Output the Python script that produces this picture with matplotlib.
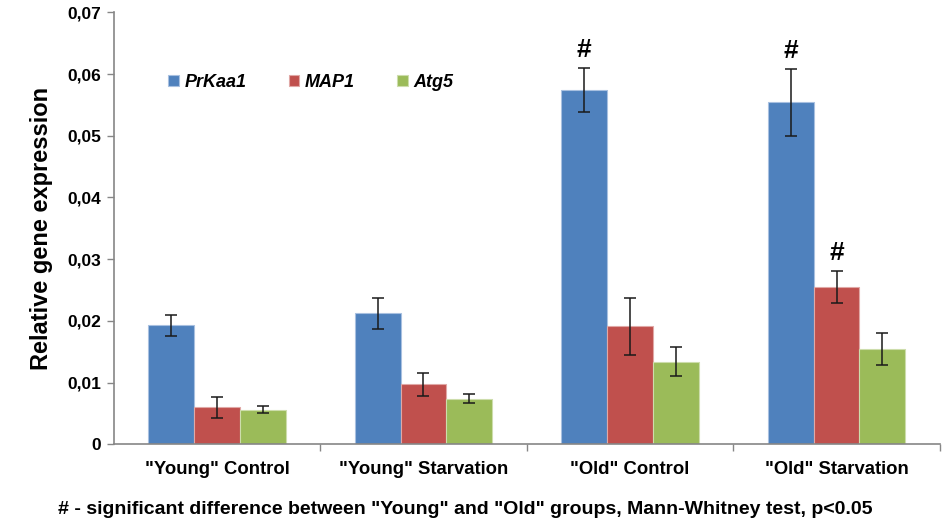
import numpy as np
import matplotlib
matplotlib.use("Agg")
import matplotlib.pyplot as plt

plt.rcParams['font.family'] = ['Liberation Sans', 'DejaVu Sans']

categories = ['"Young" Control', '"Young" Starvation', '"Old" Control', '"Old" Starvation']
genes = ['PrKaa1', 'MAP1', 'Atg5']

prkaa1 = [0.0193, 0.0212, 0.0574, 0.0554]
prkaa1_err = [0.0017, 0.0025, 0.0036, 0.0054]
map1 = [0.0060, 0.0097, 0.0191, 0.0255]
map1_err = [0.0017, 0.0018, 0.0046, 0.0026]
atg5 = [0.0056, 0.0074, 0.0134, 0.0155]
atg5_err = [0.0006, 0.0007, 0.0023, 0.0026]

# '#' marks: (category index, gene index)
significant = [(2, 0), (3, 0), (3, 1)]

yticks = [0, 0.01, 0.02, 0.03, 0.04, 0.05, 0.06, 0.07]
ytick_labels = ['0', '0,01', '0,02', '0,03', '0,04', '0,05', '0,06', '0,07']

colors = ['#4F81BD', '#C0504D', '#9BBB59']
edge_colors = ['#A8C0E0', '#E0A8A6', '#CDDDAC']

fig = plt.figure(figsize=(9.42, 5.22), dpi=100)
ax = fig.add_axes([0.1207, 0.1489, 0.877, 0.8275])

x = np.arange(len(categories))
w = 0.222
series = [prkaa1, map1, atg5]
errs = [prkaa1_err, map1_err, atg5_err]
for i, (vals, err) in enumerate(zip(series, errs)):
    pos = x + (i - 1) * w
    ax.bar(pos, vals, width=w, color=colors[i], edgecolor=edge_colors[i],
           linewidth=0.8, label=genes[i], zorder=2)
    ax.errorbar(pos, vals, yerr=err, fmt='none', ecolor='#1a1a1a',
                elinewidth=1.1, capsize=4, capthick=1.1, zorder=3)

for ci, gi in significant:
    top = series[gi][ci] + errs[gi][ci]
    ax.annotate('#', xy=(x[ci] + (gi - 1) * w, top), xytext=(0, 4.5),
                textcoords='offset points', ha='center', va='bottom',
                fontsize=19, fontweight='bold')

ax.set_xlim(-0.5, 3.5)
ax.set_ylim(0, 0.07)
ax.set_yticks(yticks)
ax.set_yticklabels(ytick_labels, fontsize=12.5, fontweight='bold')
ax.set_xticks(x)
ax.set_xticklabels(categories, fontsize=13.3, fontweight='bold')
ax.tick_params(axis='x', length=0, pad=12)
ax.set_xticks(np.arange(0.5, 3.6, 1), minor=True)
ax.tick_params(axis='x', which='minor', length=5, color='#868686', width=1)
ax.tick_params(axis='y', length=5, color='#868686', width=1, pad=4)

for s in ['top', 'right']:
    ax.spines[s].set_visible(False)
for s in ['left', 'bottom']:
    ax.spines[s].set_color('#868686')
    ax.spines[s].set_linewidth(1.2)

ax.set_ylabel('Relative gene expression', fontsize=17, fontweight='bold', labelpad=10)

leg = ax.legend(loc='center left', bbox_to_anchor=(0.046, 0.838), ncol=3, frameon=False,
                prop={'size': 13, 'weight': 'bold', 'style': 'italic'},
                handlelength=0.6, handleheight=0.6, handletextpad=0.3, columnspacing=2.35)

fig.text(0.494, 0.023, '# - significant difference between "Young" and "Old" groups, Mann-Whitney test, p<0.05',
         ha='center', va='center', fontsize=14, fontweight='bold')

fig.savefig('out.png', dpi=100)
